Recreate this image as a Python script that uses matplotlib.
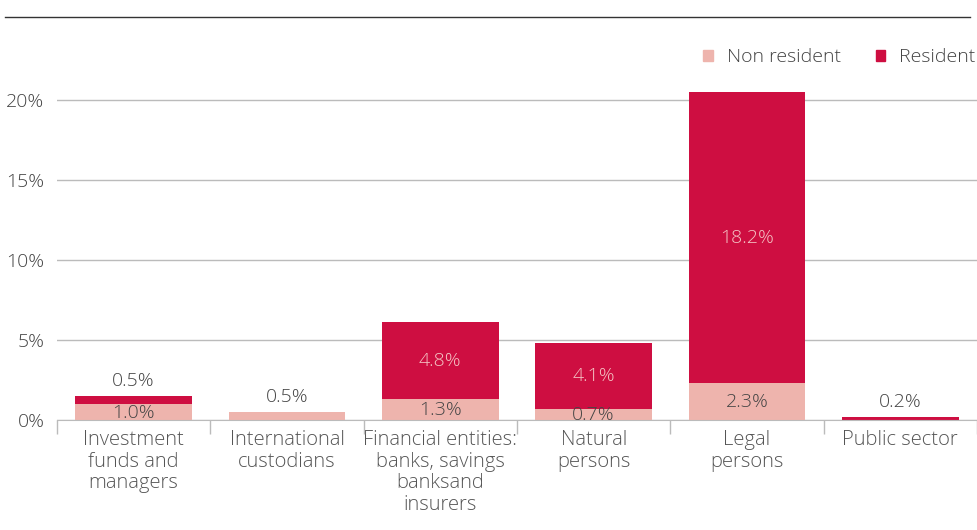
import numpy as np
import matplotlib.pyplot as plt
from matplotlib.patches import Patch

categories = ['Investment\nfunds and\nmanagers', 'International\ncustodians',
              'Financial entities:\nbanks, savings\nbanksand\ninsurers',
              'Natural\npersons', 'Legal\npersons', 'Public sector']
non_resident = [1.0, 0.5, 1.3, 0.7, 2.3, 0.0]
resident = [0.5, 0.0, 4.8, 4.1, 18.2, 0.2]
y_ticks = [0, 5, 10, 15, 20]

red = '#ce0e41'
pink = '#eeb4ad'
txt = '#444444'

plt.rcParams['font.family'] = ['Open Sans', 'DejaVu Sans']

fig = plt.figure(figsize=(9.78, 5.30), dpi=100)
ax = fig.add_axes([57/978, 1-420/530, 920/978, 340/530])

x = np.arange(len(categories))
w = 0.76
nr = np.array(non_resident)
r = np.array(resident)
ax.bar(x, nr, w, color=pink, zorder=2)
ax.bar(x, r, w, bottom=nr, color=red, zorder=2)

#labels: small segments go above the bar
fs = 14
for i in range(len(x)):
    top = nr[i] + r[i]
    if nr[i] > 0:
        if nr[i] > 0.5:
            ax.text(x[i], nr[i]/2 - 0.05, f'{nr[i]:.1f}%', ha='center', va='center',
                    fontsize=fs, color=txt, fontweight='light', zorder=3)
        else:
            ax.text(x[i], top + 0.35, f'{nr[i]:.1f}%', ha='center', va='bottom',
                    fontsize=fs, color=txt, fontweight='light', zorder=3)
    if r[i] > 0:
        if r[i] > 0.5:
            ax.text(x[i], nr[i] + r[i]/2, f'{r[i]:.1f}%', ha='center', va='center',
                    fontsize=fs, color='#f4c4c4', fontweight='light', zorder=3)
        else:
            ax.text(x[i], top + 0.35, f'{r[i]:.1f}%', ha='center', va='bottom',
                    fontsize=fs, color=txt, fontweight='light', zorder=3)

ax.set_xlim(-0.5, len(x) - 0.5)
ax.set_ylim(0, 21.25)
ax.set_yticks(y_ticks)
ax.set_yticklabels([f'{v}%' for v in y_ticks], fontsize=14, color=txt, fontweight='light')
ax.tick_params(axis='y', length=0, pad=9)
ax.yaxis.grid(True, color='#bbbbbb', lw=1, zorder=0)
ax.set_axisbelow(True)

ax.set_xticks(x)
ax.set_xticklabels(categories, fontsize=14.5, color='#555555', fontweight='light', linespacing=1.1)
ax.tick_params(axis='x', length=0, pad=7.5)
ax.set_xticks(np.arange(-0.5, len(x)), minor=True)
ax.tick_params(axis='x', which='minor', length=10, color='#bbbbbb', width=1)

for s in ['top', 'right', 'left']:
    ax.spines[s].set_visible(False)
ax.spines['bottom'].set_color('#bbbbbb')

#top rule
fig.add_artist(plt.Line2D([5/978, 970/978], [1-17/530, 1-17/530], color='#333333', lw=1))

handles = [Patch(color=pink, label='Non resident'), Patch(color=red, label='Resident')]
fig.legend(handles=handles, loc='center right', bbox_to_anchor=(1.015, 1-57/530), ncol=2,
           frameon=False, handlelength=0.5, handleheight=0.5,
           handletextpad=0.7, columnspacing=1.8, labelcolor='#444444',
           prop={'weight': 'light', 'size': 14})

fig.savefig('out.png', dpi=100)
